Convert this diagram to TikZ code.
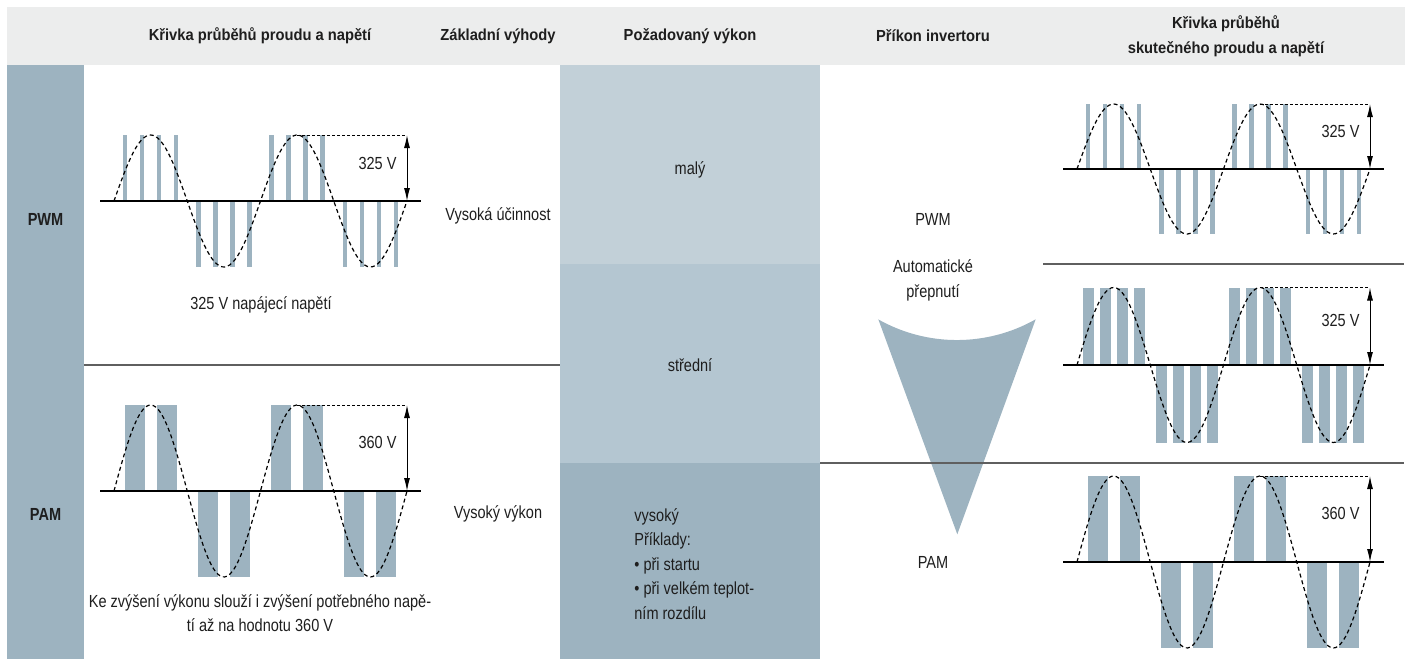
\documentclass[tikz,border=0pt]{standalone}
\usepackage{fontspec}
\setmainfont{Liberation Sans}[FakeStretch=0.83]
\newfontfamily\headfont{Liberation Sans}[FakeStretch=0.92]
\usetikzlibrary{arrows.meta}
\definecolor{headgray}{RGB}{236,237,237}
\definecolor{slate}{RGB}{157,179,192}
\definecolor{bandlight}{RGB}{194,208,216}
\definecolor{bandmid}{RGB}{180,198,209}
\definecolor{rulegray}{RGB}{95,95,95}
\definecolor{ink}{RGB}{30,30,30}
\tikzset{
  txt/.style={font=\fontsize{8.75pt}{12.25pt}\selectfont, text=ink, inner sep=0pt},
  headtxt/.style={font=\headfont\bfseries\fontsize{8pt}{12.5pt}\selectfont, text=ink, inner sep=0pt, align=center},
  rowtxt/.style={font=\bfseries\fontsize{8.75pt}{12pt}\selectfont, text=ink, inner sep=0pt},
  bar/.style={fill=slate},
  sinewave/.style={line width=0.6pt, dash pattern=on 2pt off 1.5pt},
  axisline/.style={line width=1.2pt},
  peakline/.style={line width=0.5pt, dash pattern=on 1.5pt off 1pt},
  volt/.style={line width=0.5pt, {Latex[length=6.5pt,width=3pt]}-{Latex[length=6.5pt,width=3pt]}},
  divider/.style={line width=0.75pt, draw=rulegray}
}
% bars of one waveform: x0, axis, amplitude, bar width, offsets
\newcommand{\wavebars}[5]{%
  \foreach \k in {0,...,3}{
    \pgfmathsetmacro{\hc}{#1+(\k+0.5)*73.25}
    \pgfmathsetmacro{\barend}{#2-#3*(1-2*mod(\k,2))}
    \foreach \o in {#5}{
      \fill[bar] ({\hc+\o-#4/2},#2) rectangle ({\hc+\o+#4/2},\barend);
    }
  }
}
% whole waveform: name, x0, axis, amplitude, bar width, offsets, label
\newcommand{\drawwave}[7]{%
  \wavebars{#2}{#3}{#4}{#5}{#6}
  \draw[sinewave] plot[domain=0:293, samples=120, smooth] ({#2+\x},{#3-#4*sin((\x/146.5)*360)});
  \draw[axisline] ({#2-14},#3) -- ({#2+307},#3);
  \coordinate (#1-top) at ({#2+1.25*146.5},{#3-#4});
  \coordinate (#1-peak) at ({#2+293},{#3-#4});
  \coordinate (#1-zero) at ({#2+293},#3);
  \draw[peakline] (#1-top) -- (#1-peak);
  \draw[volt] (#1-peak) -- (#1-zero) node[txt, pos=0.43, left=5pt] (#1-lbl) {#7};
}
\begin{document}
\begin{tikzpicture}[x=0.5pt,y=-0.5pt]
  \useasboundingbox (0,0) rectangle (1410,659);
  % background bands
  \fill[headgray] (7,7) rectangle (1405,65);
  \fill[slate] (7,65) rectangle (84,659);
  \fill[bandlight] (560,65) rectangle (820,264);
  \fill[bandmid] (560,264) rectangle (820,463);
  \fill[slate] (560,463) rectangle (820,659);
  % header
  \node[headtxt] (hCurve) at (260,36) {Křivka průběhů proudu a napětí};
  \node[headtxt] (hBenefit) at (498,36) {Základní výhody};
  \node[headtxt] (hPower) at (690,36) {Požadovaný výkon};
  \node[headtxt] (hInput) at (933,36) {Příkon invertoru};
  \node[headtxt] (hReal) at (1226,36) {Křivka průběhů\\skutečného proudu a napětí};
  % row labels
  \node[rowtxt] (rPWM) at (45.5,219) {PWM};
  \node[rowtxt] (rPAM) at (45.5,514) {PAM};
  % left waveforms
  \drawwave{wPWM}{114}{201}{66}{4.7}{-25.5,-8.5,8.5,25.5}{325 V}
  \drawwave{wPAM}{114}{491}{86}{20}{-16,16}{360 V}
  \node[txt] (tSupply) at (261,305) {325 V napájecí napětí};
  \node[txt, align=center] (tRaise) at (260,613) {Ke zvýšení výkonu slouží i zvýšení potřebného napě-\\tí až na hodnotu 360 V};
  \draw[divider] (84,365) -- (560,365);
  % benefits
  \node[txt] (bEff) at (498,216) {Vysoká účinnost};
  \node[txt] (bPow) at (498,514) {Vysoký výkon};
  % required power
  \node[txt] (pLow) at (690,170) {malý};
  \node[txt] (pMid) at (690,365) {střední};
  \node[txt, align=left, anchor=north west] (pHigh) at (634,508) {vysoký\\Příklady:\\\textbullet\ při startu\\\textbullet\ při velkém teplot-\\ním rozdílu};
  % inverter input
  \fill[slate] (878.3,319.3) -- (957.3,534.3) -- (1035.7,319.3)
    arc[start angle=60.5, end angle=119.5, radius=160] -- cycle;
  \node[txt] (iPWM) at (933,219) {PWM};
  \node[txt, align=center] (iSwitch) at (933,280.5) {Automatické\\přepnutí};
  \node[txt] (iPAM) at (933,562.7) {PAM};
  % real waveforms
  \drawwave{rA}{1077}{169}{65}{4.7}{-25.5,-8.5,8.5,25.5}{325 V}
  \drawwave{rB}{1077}{365}{77.5}{11}{-25.5,-8.5,8.5,25.5}{325 V}
  \drawwave{rC}{1077}{562}{86}{20}{-16,16}{360 V}
  \draw[divider] (1043,264) -- (1404,264);
  \draw[divider] (820,463) -- (1404,463);
\end{tikzpicture}
\end{document}
